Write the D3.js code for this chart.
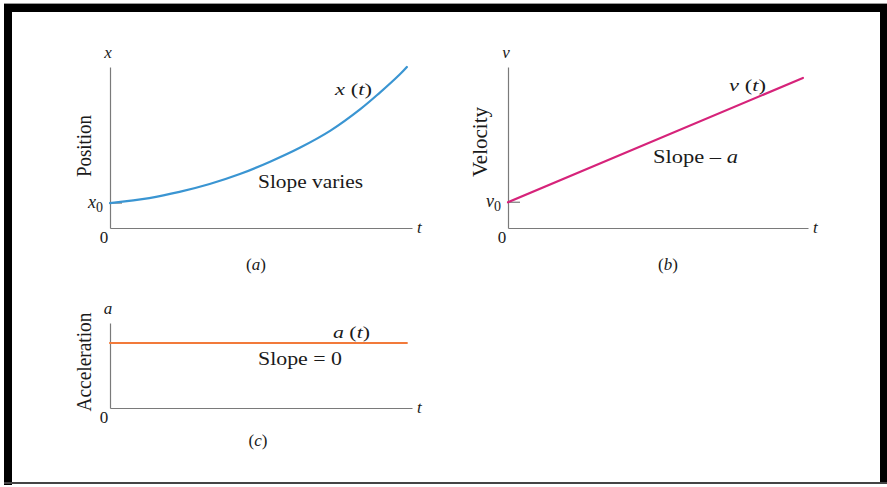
<!DOCTYPE html>
<html>
<head>
<meta charset="utf-8">
<script src="https://cdn.jsdelivr.net/npm/d3@7"></script>
<style>
  html, body { margin: 0; padding: 0; background: #fff; }
  svg { display: block; }
  text { font-family: "Liberation Serif", "Times New Roman", Tinos, serif; fill: #1a1a1a; }
</style>
</head>
<body>
<svg id="chart" width="887" height="487"></svg>
<script>
// Position vs. time: x(t) for constant acceleration
const posTime = [0, 1.3, 2.3, 3.3, 4.3, 5.3, 6.3, 7.3, 8.3, 8.9, 9.6, 9.83];
const posValue = [1.55, 1.86, 2.24, 2.73, 3.35, 4.12, 5.0, 6.05, 7.4, 8.35, 9.55, 10.0];
// Velocity vs. time: straight line starting at v0
const velTime = [0, 9.83];
const velValue = [1.6, 9.32];
// Acceleration vs. time: constant
const accTime = [0, 9.83];
const accValue = [7.65, 7.65];

const svg = d3.select("#chart");

// frame
svg.append("rect").attr("x", 0).attr("y", 0).attr("width", 887).attr("height", 487).attr("fill", "#fff");
svg.append("rect").attr("x", 4).attr("y", 3).attr("width", 883).attr("height", 1).attr("fill", "#9a9a9a");
svg.append("rect").attr("x", 4).attr("y", 4).attr("width", 883).attr("height", 8).attr("fill", "#000");
svg.append("rect").attr("x", 4).attr("y", 4).attr("width", 8).attr("height", 481).attr("fill", "#000");
svg.append("rect").attr("x", 880).attr("y", 4).attr("width", 7).attr("height", 480).attr("fill", "#000");
svg.append("rect").attr("x", 4).attr("y", 482).attr("width", 883).attr("height", 2).attr("fill", "#444");

function panel(opts) {
  const g = svg.append("g");
  const x = d3.scaleLinear().domain([0, 10]).range([opts.left, opts.right]);
  const y = d3.scaleLinear().domain([0, 10]).range([opts.bottom, opts.top]);

  // axes: bare lines, no ticks
  const xAxis = d3.axisBottom(x).tickValues([]).tickSizeOuter(0);
  const yAxis = d3.axisLeft(y).tickValues([]).tickSizeOuter(0);
  g.append("g").attr("transform", `translate(0,${opts.bottom})`).call(xAxis)
    .select(".domain").attr("stroke", "#7a7a7a").attr("stroke-width", 1.2);
  g.append("g").attr("transform", `translate(${opts.left},0)`).call(yAxis)
    .select(".domain").attr("stroke", "#7a7a7a").attr("stroke-width", 1.2);

  // curve
  const pts = opts.t.map((t, i) => [t, opts.v[i]]);
  const line = d3.line().x(d => x(d[0])).y(d => y(d[1])).curve(d3.curveCatmullRom.alpha(0.5));
  if (opts.tick) {
    g.append("line").attr("x1", x(0)).attr("x2", x(0) + 12)
      .attr("y1", y(opts.v[0])).attr("y2", y(opts.v[0]))
      .attr("stroke", "#7a7a7a").attr("stroke-width", 1.2);
  }
  g.append("path").datum(pts).attr("d", line)
    .attr("fill", "none").attr("stroke", opts.color).attr("stroke-width", 2.2)
    .attr("stroke-linecap", "round");

  // origin "0"
  g.append("text").attr("x", x(0) - 6).attr("y", opts.bottom + 15)
    .attr("text-anchor", "middle").attr("font-size", 17).text("0");
  // "t" at the end of the time axis
  g.append("text").attr("x", x(10) + 5).attr("y", opts.bottom + 5)
    .attr("font-size", 17).attr("font-style", "italic").text("t");
  // variable symbol above the vertical axis
  g.append("text").attr("x", opts.left - 2).attr("y", opts.top - 9)
    .attr("text-anchor", "middle").attr("font-size", 17).attr("font-style", "italic").text(opts.sym);

  // rotated axis title
  g.append("text")
    .attr("transform", `translate(${opts.titleX},${opts.titleY}) rotate(-90)`)
    .attr("text-anchor", "middle").attr("font-size", 21)
    .attr("textLength", opts.titleLen).attr("lengthAdjust", "spacingAndGlyphs")
    .text(opts.title);

  // intercept label (x0 / v0)
  if (opts.intercept) {
    const iy = y(opts.v[0]);
    const it = g.append("text").attr("x", x(0) - 22).attr("y", iy + 5).attr("font-size", 18);
    it.append("tspan").attr("font-style", "italic").text(opts.sym);
    it.append("tspan").attr("font-size", 14).attr("dy", 4).text("0");
  }

  // function label, e.g. x (t)
  const fl = g.append("text").attr("x", opts.fnX).attr("y", opts.fnY).attr("font-size", 17)
    .attr("textLength", 37).attr("lengthAdjust", "spacingAndGlyphs");
  fl.append("tspan").attr("font-style", "italic").text(opts.sym);
  fl.append("tspan").text(" (");
  fl.append("tspan").attr("font-style", "italic").text("t");
  fl.append("tspan").text(")");

  // slope note
  const sl = g.append("text").attr("x", opts.slX).attr("y", opts.slY).attr("font-size", 18)
    .attr("textLength", opts.slLen).attr("lengthAdjust", "spacingAndGlyphs");
  sl.append("tspan").text(opts.slope[0]);
  if (opts.slope[1]) sl.append("tspan").attr("font-style", "italic").text(opts.slope[1]);

  // panel caption
  const cap = g.append("text").attr("x", opts.capX).attr("y", opts.capY)
    .attr("text-anchor", "middle").attr("font-size", 17);
  cap.append("tspan").text("(");
  cap.append("tspan").attr("font-style", "italic").text(opts.cap);
  cap.append("tspan").text(")");
}

panel({
  left: 110, right: 412, top: 67, bottom: 228,
  t: posTime, v: posValue, color: "#3a95d2", sym: "x",
  title: "Position", titleX: 91, titleY: 146, titleLen: 62,
  intercept: true, tick: true,
  fnX: 335, fnY: 95,
  slope: ["Slope varies"], slX: 258, slY: 188, slLen: 105,
  cap: "a", capX: 256, capY: 270
});

panel({
  left: 508, right: 808, top: 67, bottom: 228,
  t: velTime, v: velValue, color: "#d6237a", sym: "v",
  title: "Velocity", titleX: 487, titleY: 142, titleLen: 70,
  intercept: true, tick: true,
  fnX: 729, fnY: 91,
  slope: ["Slope \u2013 ", "a"], slX: 653, slY: 163, slLen: 85,
  cap: "b", capX: 668, capY: 270
});

panel({
  left: 110, right: 412, top: 323, bottom: 408,
  t: accTime, v: accValue, color: "#f27a3a", sym: "a",
  title: "Acceleration", titleX: 91, titleY: 362, titleLen: 99,
  intercept: false, tick: false,
  fnX: 333, fnY: 338,
  slope: ["Slope = 0"], slX: 258, slY: 365, slLen: 84,
  cap: "c", capX: 258, capY: 446
});
</script>
</body>
</html>
